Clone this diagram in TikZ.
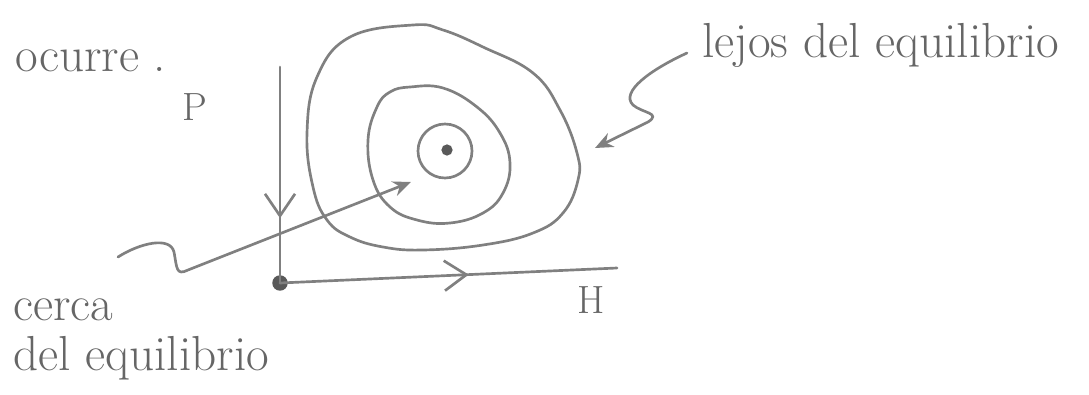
\documentclass[tikz,border=0pt]{standalone}
\usepackage{tikz}
\usetikzlibrary{positioning, arrows.meta, decorations.markings}

\begin{document}
\begin{tikzpicture}[
  x=0.025cm, y=-0.025cm,
  pen/.style={draw=black!50, line width=1.9pt, line cap=round, line join=round},
  hand/.style={text=black!60, font=\fontsize{35}{42}\selectfont, inner sep=0pt},
  axlabel/.style={text=black!60, font=\fontsize{28}{32}\selectfont, inner sep=0pt},
  dot/.style={circle, fill=black!65, inner sep=0pt, minimum size=#1},
  midarrow/.style={postaction={decorate}, decoration={markings, mark=at position #1 with {\arrow{Straight Barb[length=5.5mm, width=7.5mm, line width=1.9pt]}}}},
  pointer/.style={pen, -{Stealth[length=4.5mm, width=3.8mm]}}
]
\useasboundingbox (0,0) rectangle (1089,394);
\node[dot=11pt] (origin) at (280,283) {};
\coordinate (ptop) at (280,67);
\coordinate (hend) at (617,268);
\draw[pen, midarrow=0.7] (ptop) -- (origin.center);
\draw[pen, midarrow=0.56] (origin.center) -- (hend);
\node[axlabel, anchor=base] (p) at (195,120) {P};
\node[axlabel, anchor=base] (h) at (591,313) {H};

\node[dot=8pt] (eq) at (447,150) {};
\node[circle, pen, minimum size=1.35cm] (ring1) at (445,151) {};
\draw[pen] plot[smooth cycle, tension=0.7] coordinates {(410,87) (443,88) (477,107) (500,133) (510,163) (503,193) (483,213) (450,223) (417,220) (390,207) (373,180) (368,140) (377,107) (390,92)};
\draw[pen] plot[smooth cycle, tension=0.7] coordinates {(413,25) (443,30) (483,47) (533,73) (560,110) (577,153) (578,180) (563,213) (533,233) (483,245) (423,250) (383,247) (350,237) (327,220) (313,187) (307,133) (317,77) (350,37)};

\node[hand, anchor=base west] (ocurre) at (15,72) {ocurre .};
\node[hand, anchor=base west] (lejos) at (702,58) {lejos del equilibrio};
\node[hand, anchor=base west] (cerca) at (13,320) {cerca};
\node[hand, anchor=base west] (cercadel) at ([yshift=-1.25cm]cerca.base west) {del equilibrio};

\coordinate (lejostail) at (687,53);
\coordinate (lejostip) at (595,148);
\draw[pointer] (lejostail) .. controls (650,70) and (620,92) .. (633,105) .. controls (642,113) and (662,113) .. (648,122) -- (lejostip);
\coordinate (cercatail) at (118,257);
\coordinate (cercatip) at (411,182);
\draw[pointer] (cercatail) .. controls (140,243) and (170,236) .. (174,252) .. controls (177,268) and (176,276) .. (188,270) -- (cercatip);
\end{tikzpicture}
\end{document}
